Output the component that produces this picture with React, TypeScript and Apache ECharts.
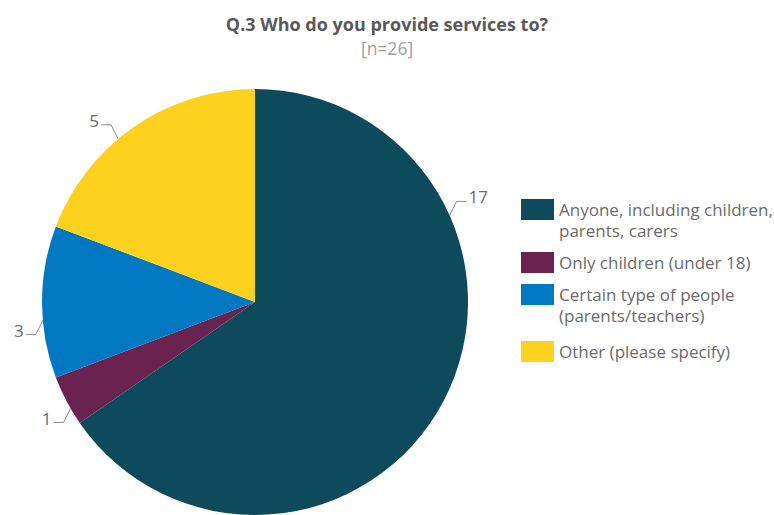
import React, { useEffect, useRef } from "react";
import * as echarts from "echarts";

const categories = [
  "Anyone, including children,\nparents, carers",
  "Only children (under 18)",
  "Certain type of people\n(parents/teachers)",
  "Other (please specify)",
];
const values = [17, 1, 3, 5];
const colors = ["#0c4a5c", "#6a2351", "#0079c2", "#fdd21f"];
// label leader anchor angles (degrees, counter-clockwise from 3 o'clock)
const labelAngles = [24, 210, 185, 130];
const legendTops = [178, 252, 263, 341];

const CX = 255;
const CY = 302;
const R = 213;

export default function App() {
  const ref = useRef<HTMLDivElement>(null);
  useEffect(() => {
    if (!ref.current) return;
    const chart = echarts.init(ref.current, null, { renderer: "svg" });
    const font = "Open Sans";
    chart.setOption({
      animation: false,
      textStyle: { fontFamily: font },
      title: {
        text: "Q.3 Who do you provide services to?",
        subtext: "[n=26]",
        left: "center",
        top: 8,
        itemGap: 4,
        textStyle: { fontFamily: font, fontSize: 18, fontWeight: "bold", color: "#595959", lineHeight: 21 },
        subtextStyle: { fontFamily: font, fontSize: 17.5, color: "#a0a0a0", lineHeight: 19 },
      },
      legend: categories.map((c, i) => ({
        data: [c],
        left: 521,
        top: legendTops[i],
        padding: 0,
        itemWidth: 33,
        itemHeight: 21,
        itemGap: 6,
        icon: "rect",
        selectedMode: false,
        formatter: (name: string) => (name.indexOf("\n") >= 0 ? "\n" + name : name),
        textStyle: { fontFamily: font, fontSize: 17, color: "#6b6b6b", lineHeight: 21 },
      })),
      series: [
        {
          type: "pie",
          center: [CX, CY],
          radius: R,
          startAngle: 90,
          clockwise: true,
          avoidLabelOverlap: false,
          data: categories.map((c, i) => ({ name: c, value: values[i], itemStyle: { color: colors[i] } })),
          label: {
            show: true,
            position: "outside",
            formatter: "{c}",
            fontFamily: font,
            fontSize: 17,
            color: "#6b6b6b",
          },
          labelLine: { show: true, length: 12, length2: 10, lineStyle: { color: "#8c8c8c", width: 1 } },
          labelLayout: (p: any) => {
            const a = (labelAngles[p.dataIndex] * Math.PI) / 180;
            const sx = Math.cos(a) >= 0 ? 1 : -1;
            const sy = Math.sin(a) >= 0 ? 1 : -1;
            const x0 = CX + R * Math.cos(a);
            const y0 = CY - R * Math.sin(a);
            const x1 = x0 + sx * 7;
            const y1 = y0 - sy * 14;
            const x2 = x1 + sx * 10;
            return {
              x: x2 + sx * 2,
              y: y1 + 4,
              align: sx > 0 ? "left" : "right",
              verticalAlign: "bottom",
              labelLinePoints: [
                [x0, y0],
                [x1, y1],
                [x2, y1],
              ],
            };
          },
        },
      ],
    });
    return () => chart.dispose();
  }, []);
  return <div ref={ref} style={{ position: "absolute", left: 0, top: 0, width: 774, height: 515 }} />;
}
